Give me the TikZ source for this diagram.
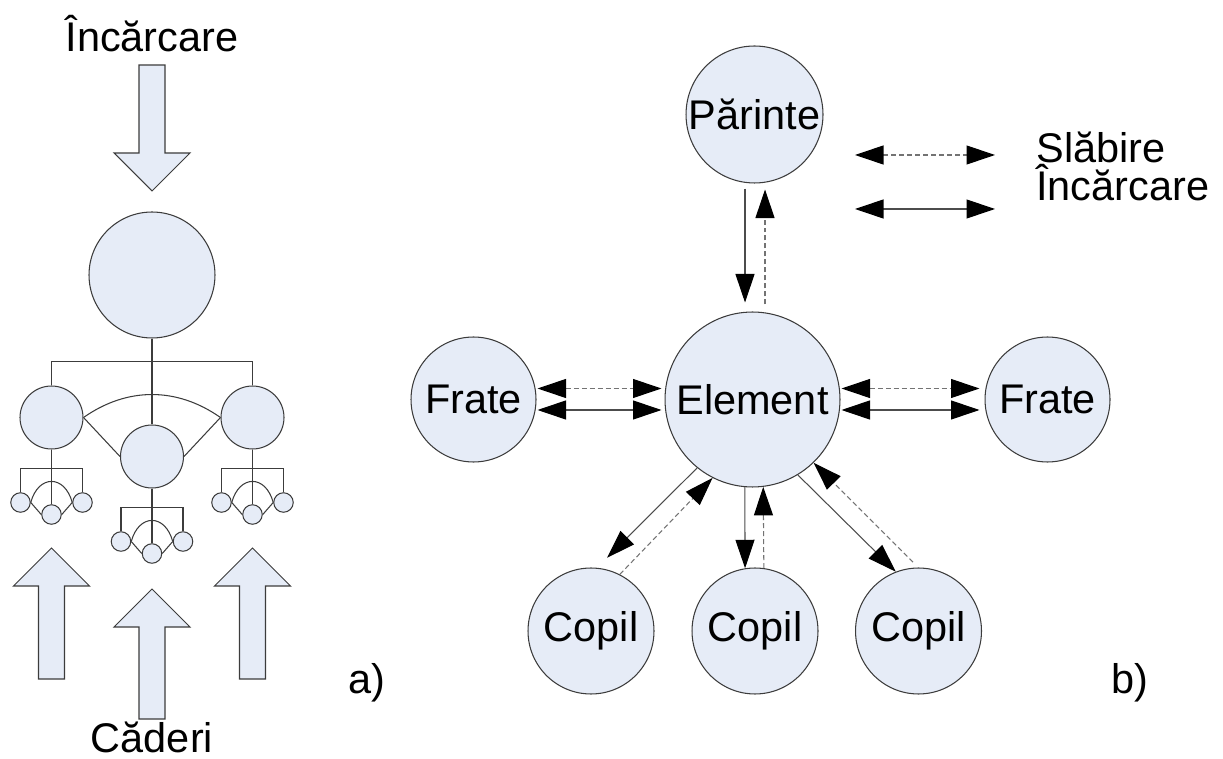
\documentclass[tikz,border=0pt]{standalone}
\usepackage{fontspec}
\setmainfont{Liberation Sans}
\usetikzlibrary{arrows.meta,calc}
\definecolor{bubble}{RGB}{230,236,247}
\definecolor{rim}{RGB}{60,60,60}

\begin{document}
\begin{tikzpicture}[x=0.02cm, y=0.02cm,
    >={Triangle[length=5.7mm, width=3.8mm, color=black]},
    ball style/.style={circle, draw=rim, fill=bubble, line width=0.6pt, inner sep=0pt,
        font=\fontsize{23.6}{28}\selectfont},
    tree style/.style={draw=rim, line width=0.6pt},
    block style/.style={draw=rim, fill=bubble, line width=0.6pt, line join=miter},
    load style/.style={draw=black!70, line width=0.6pt},
    drop style/.style={draw=black!55, line width=0.6pt, dash pattern=on 1mm off 0.6mm},
    caption style/.style={font=\fontsize{23.6}{28}\selectfont, inner sep=0pt},]
    \useasboundingbox (0,0) rectangle (1223,-759);

    % a) the tree, loaded from above and knocked from below
    \foreach \x/\y/\s/\l in {152/-191/1/88, 51.5/-548/-1/93, 252.5/-548/-1/93, 152/-589/-1/92}
        \draw[block style] (\x,\y) -- ++(38,{38*\s}) -- ++(-25,0) -- ++(0,{\l*\s})
            -- ++(-26,0) -- ++(0,{-\l*\s}) -- ++(-25,0) -- cycle;

    \node[caption style, anchor=base] (load) at (152,-52) {Încărcare};
    \node[caption style, anchor=base] (drops) at (152,-752) {Căderi};

    \node[ball style, minimum size=2.52cm] (t0) at (152,-275) {};
    \node[ball style, minimum size=1.26cm] (t1) at (51.5,-417.5) {};
    \node[ball style, minimum size=1.26cm] (t2) at (152,-456.5) {};
    \node[ball style, minimum size=1.26cm] (t3) at (252.5,-417.5) {};

    \draw[tree style] (t0.south) -- (t2.north);
    \draw[tree style] (t1.north) |- ($(t0.south)+(0,-23)$) -| (t3.north);
    \draw[tree style] (t1.east) to[bend left=35] (t3.west);
    \draw[tree style] (t1.east) -- (t2.west) (t3.west) -- (t2.east);

    \foreach \p in {t1,t2,t3} {
        \node[ball style, minimum size=0.39cm] (\p-l) at ($(\p)+(-31,-85)$) {};
        \node[ball style, minimum size=0.39cm] (\p-m) at ($(\p)+(0,-97)$) {};
        \node[ball style, minimum size=0.39cm] (\p-r) at ($(\p)+(31,-85)$) {};
        \draw[tree style] (\p.south) -- (\p-m.north);
        \draw[tree style] (\p-l.north) |- ($(\p)+(0,-51)$) -| (\p-r.north);
        \draw[tree style] (\p-l.east) to[out=75, in=105, looseness=1.8] (\p-r.west);
        \draw[tree style] (\p-l.east) -- (\p-m.west) (\p-r.west) -- (\p-m.east);
    }

    \node[caption style, anchor=base west] (parta) at (348,-693) {a)};

    % b) one element and its neighbours
    \node[ball style, minimum size=3.5cm] (el) at (752.5,-399.5) {Element};
    \node[ball style, minimum size=2.74cm] (par) at (754.5,-114.5) {Părinte};
    \node[ball style, minimum size=2.5cm] (frl) at (473.5,-399.5) {Frate};
    \node[ball style, minimum size=2.5cm] (frr) at (1047.5,-399.5) {Frate};
    \node[ball style, minimum size=2.52cm] (cl) at (591,-631) {Copil};
    \node[ball style, minimum size=2.52cm] (cm) at (755,-631) {Copil};
    \node[ball style, minimum size=2.52cm] (cr) at (918.5,-631) {Copil};

    \draw[load style, ->] ($(par.south)+(-9.5,-5)$) -- ($(el.north)+(-7.5,9)$);
    \draw[drop style, ->] ($(el.north)+(12.5,7)$) -- ($(par.south)+(10.5,-6)$);

    \draw[drop style, <->] ($(frl.east)+(1,11)$) -- ($(el.west)+(-3,11)$);
    \draw[load style, <->] ($(frl.east)+(1,-10.5)$) -- ($(el.west)+(-3,-10.5)$);
    \draw[drop style, <->] ($(el.east)+(1,11)$) -- ($(frr.west)+(-5,11)$);
    \draw[load style, <->] ($(el.east)+(1,-10.5)$) -- ($(frr.west)+(-5,-10.5)$);

    \draw[load style, ->] (el.231) -- ($(cl)+(77.6:75)$);
    \draw[drop style, ->] (cl.63) -- (el.243.6);
    \draw[load style, ->] (el.265) -- (cm.99);
    \draw[drop style, ->] (cm.82) -- (el.277.5);
    \draw[load style, ->] (el.301) -- (cr.111);
    \draw[drop style, ->] ($(cr)+(94.6:69)$) -- (el.314);

    % key
    \coordinate (key1a) at (855,-155);
    \coordinate (key1b) at (995,-155);
    \coordinate (key2a) at (855,-209);
    \coordinate (key2b) at (995,-209);
    \draw[drop style, <->] (key1a) -- (key1b);
    \draw[load style, <->] (key2a) -- (key2b);
    \node[caption style, font=\fontsize{23.6}{19.9}\selectfont, align=left,
        anchor=base west] (key) at (1036,-201) {Slăbire\\Încărcare};

    \node[caption style, anchor=base west] (partb) at (1111,-693) {b)};
\end{tikzpicture}
\end{document}
